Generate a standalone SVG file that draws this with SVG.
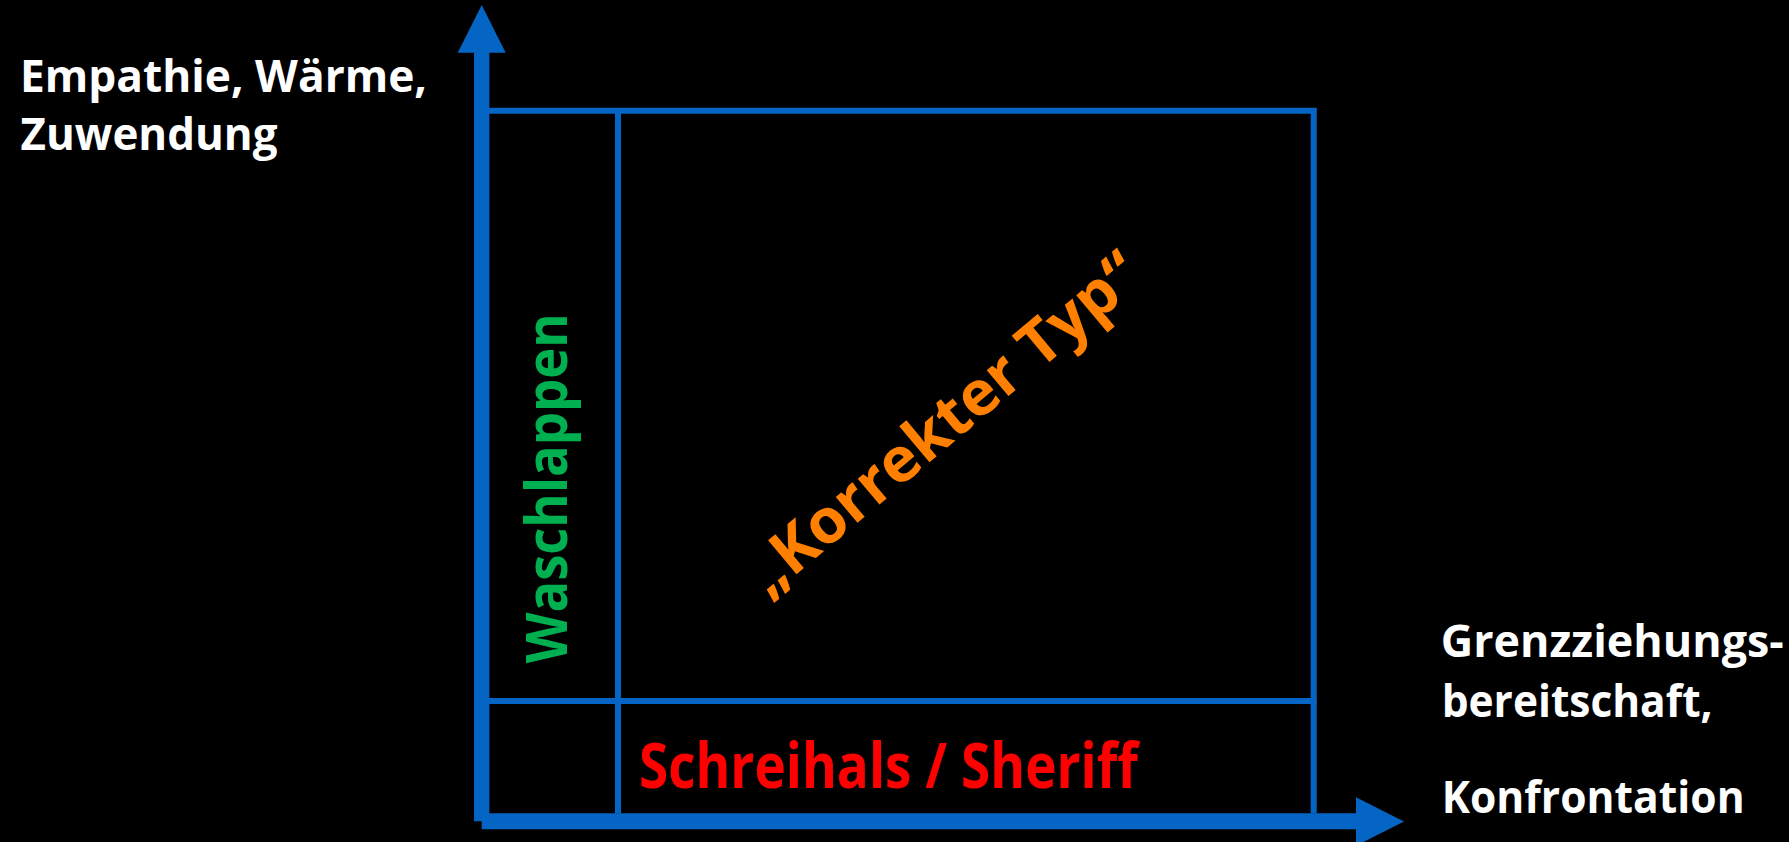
<svg xmlns="http://www.w3.org/2000/svg" width="1789" height="842" viewBox="0 0 1789 842">
  <style>
    .lbl { font-family: "Open Sans", "Liberation Sans", sans-serif; font-weight: 700; }
    .white { fill: #ffffff; }
    .grid { stroke: #0565C4; stroke-width: 6; fill: none; }
    .axis { stroke: #0565C4; fill: none; }
    .head { fill: #0565C4; }
  </style>
  <rect x="0" y="0" width="1789" height="842" fill="#000000"/>

  <!-- quadrant frame and dividers -->
  <g id="grid">
    <line class="grid" x1="489" y1="110.8" x2="1316.5" y2="110.8"/>
    <line class="grid" x1="1313.7" y1="108" x2="1313.7" y2="813.5"/>
    <line class="grid" x1="489" y1="701" x2="1316.5" y2="701"/>
    <line class="grid" x1="618" y1="108" x2="618" y2="813.5"/>
  </g>

  <!-- axes -->
  <g id="connectors">
    <line class="axis" stroke-width="15.3" x1="481.7" y1="50" x2="481.7" y2="821.3"/>
    <polygon class="head" points="481.7,5 457.7,52.7 505.7,52.7"/>
    <line class="axis" stroke-width="16" x1="481.7" y1="821.3" x2="1358" y2="821.3"/>
    <polygon class="head" points="1356,797.3 1404,821.5 1356,845.7"/>
  </g>

  <g id="y-axis-label">
    <text class="lbl white" x="20" y="92.3" font-size="44" textLength="407" lengthAdjust="spacingAndGlyphs">Empathie, Wärme,</text>
    <text class="lbl white" x="20.5" y="150" font-size="44" textLength="257" lengthAdjust="spacingAndGlyphs">Zuwendung</text>
  </g>

  <g id="x-axis-label">
    <text class="lbl white" x="1440.7" y="656.7" font-size="45" textLength="343" lengthAdjust="spacingAndGlyphs">Grenzziehungs-</text>
    <text class="lbl white" x="1441.7" y="716.7" font-size="45" textLength="271" lengthAdjust="spacingAndGlyphs">bereitschaft,</text>
    <text class="lbl white" x="1441.7" y="813.3" font-size="45" textLength="303" lengthAdjust="spacingAndGlyphs">Konfrontation</text>
  </g>

  <g id="waschlappen">
    <text class="lbl" fill="#00B050" font-size="58" transform="translate(566.7 663.3) rotate(-90)" x="0" y="0" textLength="350" lengthAdjust="spacingAndGlyphs">Waschlappen</text>
  </g>

  <g id="korrekter-typ">
    <text class="lbl" fill="#FF8000" font-size="62" text-anchor="middle" transform="translate(956.8 439.6) rotate(-40)" x="0" y="0" textLength="494" lengthAdjust="spacingAndGlyphs">„Korrekter Typ“</text>
  </g>

  <g id="schreihals">
    <text class="lbl" fill="#FF0000" x="638.9" y="787.8" font-size="62" textLength="499" lengthAdjust="spacingAndGlyphs">Schreihals / Sheriff</text>
  </g>
</svg>
